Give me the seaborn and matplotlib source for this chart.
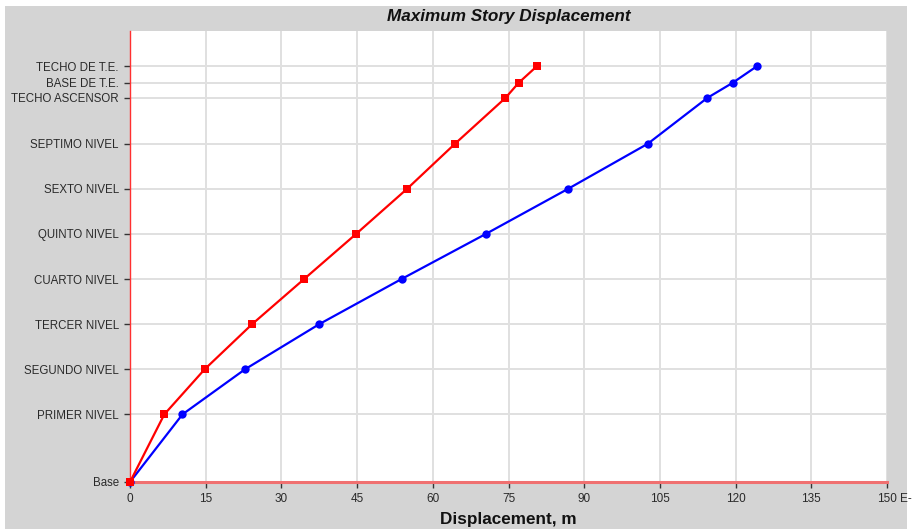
import matplotlib
matplotlib.use("Agg")
import matplotlib.pyplot as plt
import seaborn as sns
import pandas as pd
from matplotlib.patches import Rectangle

stories = ["Base", "PRIMER NIVEL", "SEGUNDO NIVEL", "TERCER NIVEL", "CUARTO NIVEL",
           "QUINTO NIVEL", "SEXTO NIVEL", "SEPTIMO NIVEL", "TECHO ASCENSOR",
           "BASE DE T.E.", "TECHO DE T.E."]
elevations = [0, 4.5, 7.5, 10.5, 13.5, 16.5, 19.5, 22.5, 25.55, 26.55, 27.65]
disp_red = [0, 6.8, 14.8, 24.2, 34.5, 44.8, 54.9, 64.4, 74.4, 77.0, 80.6]
disp_blue = [0, 10.4, 22.8, 37.5, 53.8, 70.5, 86.8, 102.6, 114.4, 119.4, 124.2]
x_ticks = [0, 15, 30, 45, 60, 75, 90, 105, 120, 135, 150]

sns.set_theme(style="white")
plt.rcParams['font.family'] = ['Liberation Sans', 'DejaVu Sans']

df = pd.concat([
    pd.DataFrame({"disp": disp_blue, "elev": elevations, "dir": "Y"}),
    pd.DataFrame({"disp": disp_red, "elev": elevations, "dir": "X"}),
])

fig = plt.figure(figsize=(9.13, 5.29), dpi=100)
fig.patch.set_facecolor("white")
fig.patches.append(Rectangle((5/913, 0), 902/913, 523/529, transform=fig.transFigure,
                             facecolor="#d4d4d4", edgecolor="none", zorder=-10))
ax = fig.add_axes([130/913, 47/529, 757/913, 451/529])
ax.set_facecolor("white")

sns.lineplot(data=df, x="disp", y="elev", hue="dir", style="dir", sort=False,
             hue_order=["Y", "X"], style_order=["Y", "X"],
             palette={"X": "#ff0000", "Y": "#0000ff"},
             markers={"X": "s", "Y": "o"}, dashes=False, markersize=6,
             markeredgewidth=0, linewidth=1.6, legend=False, ax=ax, zorder=3)
for ln in ax.lines:
    ln.set_clip_on(False)

ax.set_xlim(0, 150)
ax.set_ylim(0, 30)
ax.set_xticks(x_ticks)
ax.set_xticklabels([str(t) for t in x_ticks], fontsize=8.5, color="#2a2a2a")
ax.set_yticks(elevations)
ax.set_yticklabels(stories, fontsize=8.3, color="#2a2a2a")
ax.grid(True, color="#e0e0e0", linewidth=1.4, zorder=0)
ax.set_axisbelow(True)

for s in ["top", "right"]:
    ax.spines[s].set_visible(False)
ax.spines["left"].set_color("#ff3030")
ax.spines["left"].set_linewidth(1.0)
ax.spines["bottom"].set_color("#f07070")
ax.spines["bottom"].set_linewidth(2.2)
ax.tick_params(axis="both", which="both", length=4, width=1, color="#333333",
               direction="out", bottom=True, left=True, pad=4)

ax.set_xlabel("Displacement, m", fontsize=12.3, fontweight="bold", color="#111111", labelpad=5)
ax.set_ylabel("")
ax.set_title("Maximum Story Displacement", fontsize=12.3, fontweight="bold",
             fontstyle="italic", color="#111111", pad=7)
fig.text(900/913, 30/529, "E-", fontsize=8.5, color="#2a2a2a", ha="left", va="center")

fig.savefig("out.png", dpi=100, facecolor=fig.get_facecolor())
